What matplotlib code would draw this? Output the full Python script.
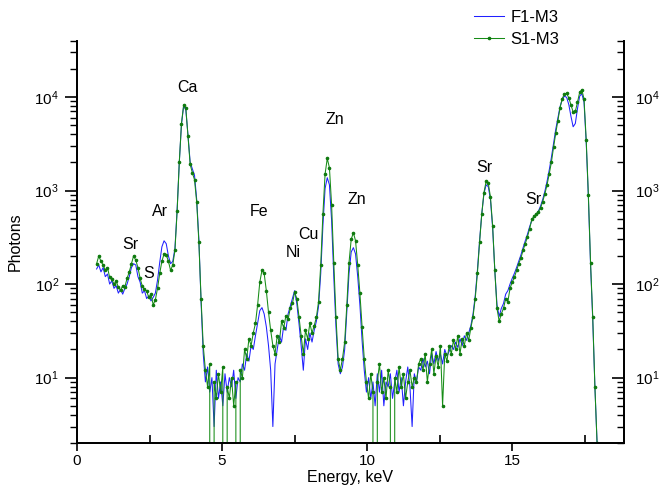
import numpy as np
import matplotlib.pyplot as plt
import matplotlib as mpl
from matplotlib.ticker import MultipleLocator, LogLocator

mpl.rcParams['font.family'] = ['Liberation Sans', 'DejaVu Sans']

# energy channels, keV (0.075 keV per channel)
energy = np.round(0.675 + 0.075 * np.arange(234), 3)

f1_m3 = [145, 160, 135, 150, 120, 128, 100, 108, 90, 96,
         80, 88, 78, 90, 100, 120, 150, 165, 160, 120,
         105, 80, 85, 70, 75, 66, 72, 80, 110, 170,
         250, 290, 270, 200, 165, 175, 240, 620, 2000, 5100,
         8000, 7300, 3900, 2000, 1700, 1450, 800, 300, 65, 18,
         9, 13, 7, 10, 3, 12, 6, 9, 5, 11,
         7, 10, 8, 12, 6, 10, 9, 14, 12, 18,
         15, 22, 20, 28, 38, 52, 56, 48, 35, 22,
         12, 3, 14, 20, 28, 24, 36, 32, 48, 58,
         70, 85, 62, 38, 22, 12, 26, 20, 30, 24,
         32, 40, 58, 130, 420, 1050, 1370, 1150, 480, 120,
         35, 14, 11, 13, 20, 50, 130, 220, 245, 210,
         120, 60, 25, 12, 7, 10, 6, 9, 5, 11,
         7, 12, 5, 9, 8, 11, 6, 9, 12, 7,
         10, 5, 9, 13, 8, 3, 11, 9, 13, 12,
         16, 13, 15, 11, 18, 14, 19, 15, 18, 14,
         20, 17, 19, 22, 20, 24, 21, 26, 22, 28,
         25, 30, 36, 48, 75, 140, 290, 560, 920, 1150,
         1100, 800, 400, 140, 60, 45, 55, 62, 78, 85,
         100, 115, 130, 150, 175, 205, 245, 290, 340, 410,
         480, 520, 550, 600, 680, 800, 980, 1250, 1650, 2250,
         3200, 4500, 6000, 7900, 9400, 10200, 9900, 8300, 6200, 4800,
         5200, 7500, 10200, 10800, 8800, 3300, 850, 160, 42, 8,
         2, 0, 0, 0]

s1_m3 = [165, 200, 175, 160, 140, 150, 118, 112, 100, 108,
         92, 86, 96, 94, 115, 135, 165, 200, 180, 150,
         115, 95, 88, 84, 72, 78, 60, 68, 90, 130,
         175, 210, 205, 175, 140, 160, 230, 600, 2000, 5200,
         8200, 7600, 3800, 1900, 1550, 1300, 750, 280, 70, 22,
         12, 8, 14, 0, 9, 6, 11, 7, 13, 0,
         8, 6, 10, 5, 9, 0, 12, 10, 20, 16,
         26, 22, 30, 38, 60, 105, 140, 130, 85, 50,
         32, 22, 18, 28, 24, 40, 34, 46, 42, 55,
         62, 82, 70, 45, 28, 18, 32, 26, 38, 30,
         36, 44, 65, 160, 560, 1500, 2200, 1750, 700, 170,
         45, 16, 12, 16, 24, 60, 170, 300, 355, 290,
         160, 80, 35, 16, 9, 6, 11, 7, 0, 9,
         14, 7, 10, 6, 12, 8, 0, 10, 7, 13,
         8, 11, 6, 9, 12, 8, 10, 9, 14, 16,
         12, 18, 9, 14, 20, 11, 17, 13, 22, 5,
         18, 15, 22, 18, 25, 20, 28, 18, 26, 22,
         30, 25, 34, 45, 70, 130, 280, 560, 950, 1250,
         1200, 850, 420, 140, 55, 40, 48, 55, 70, 65,
         90, 105, 118, 140, 165, 190, 230, 270, 320, 390,
         490, 530, 560, 590, 650, 760, 920, 1150, 1500, 2000,
         2900, 4100, 5600, 7700, 9600, 10800, 10900, 9800, 8200, 6900,
         7000, 8800, 11200, 11900, 9500, 3500, 900, 170, 45, 8,
         2, 0, 0, 0]

peak_names = ['Sr', 'S', 'Ar', 'Ca', 'Fe', 'Ni', 'Cu', 'Zn', 'Zn', 'Sr', 'Sr']
peak_x = [1.83, 2.48, 2.86, 3.79, 6.28, 7.45, 7.97, 8.9, 9.66, 14.03, 15.72]
peak_y = [263, 129, 590, 12500, 590, 216, 337, 5690, 795, 1740, 795]

fig = plt.figure(figsize=(6.68, 4.87), dpi=100)
ax = fig.add_axes([0.1153, 0.0903, 0.8187, 0.8263])

ax.plot(energy, f1_m3, color='#2020ff', lw=0.75, label='F1-M3')
ax.plot(energy, s1_m3, color='#168c16', lw=0.75, marker='o', ms=1.6,
        mec='#0f7a0f', mfc='#0f7a0f', label='S1-M3')
ax.set_yscale('log', nonpositive='clip')
ax.set_xlim(0, 18.85)
ax.set_ylim(2, 4e4)

for name, x, y in zip(peak_names, peak_x, peak_y):
    ax.text(x, y, name, ha='center', va='center', fontsize=11.5)

ax.xaxis.set_major_locator(MultipleLocator(5))
ax.xaxis.set_minor_locator(MultipleLocator(2.5))
ax.tick_params(axis='x', which='major', direction='out', length=6, width=1.2, labelsize=11, pad=2)
ax.tick_params(axis='x', which='minor', direction='in', length=6, width=1.2)
ax.tick_params(axis='y', which='major', direction='out', length=9, width=1.2, labelsize=11, pad=4)
ax.tick_params(axis='y', which='minor', direction='out', length=5, width=1)
ax.yaxis.set_minor_locator(LogLocator(base=10, subs=np.arange(2, 10)))

ax2 = ax.twinx()
ax2.set_yscale('log')
ax2.set_ylim(ax.get_ylim())
ax2.yaxis.set_minor_locator(LogLocator(base=10, subs=np.arange(2, 10)))
ax2.tick_params(axis='y', which='major', direction='in', length=9, width=1.2, labelsize=11, pad=8)
ax2.tick_params(axis='y', which='minor', direction='in', length=5, width=1)

for a in (ax, ax2):
    a.spines['top'].set_visible(False)
    for s in ('left', 'right', 'bottom'):
        a.spines[s].set_linewidth(1.3)

ax.set_xlabel('Energy, keV', fontsize=11.5, labelpad=1)
ax.set_ylabel('Photons', fontsize=11.5, labelpad=8)

ax.legend(loc='upper left', bbox_to_anchor=(0.687, 1.01), bbox_transform=fig.transFigure,
          frameon=False, fontsize=12, handlelength=1.8, handletextpad=0.4,
          labelspacing=0.4, numpoints=1)

plt.savefig('out.png', dpi=100)
